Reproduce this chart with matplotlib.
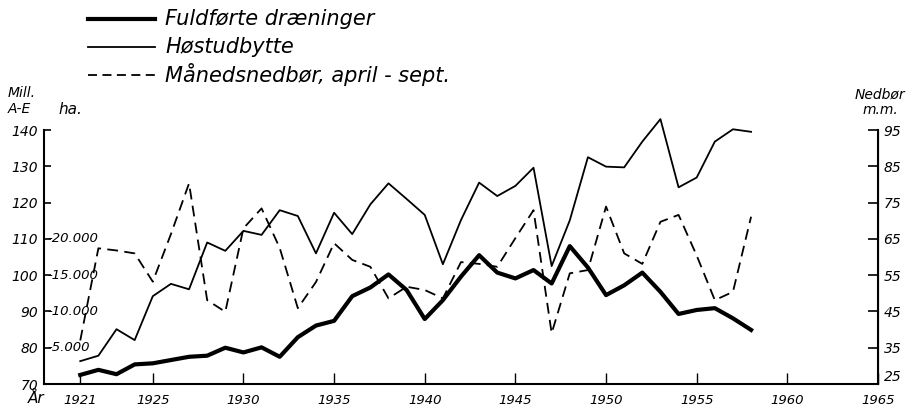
import matplotlib
matplotlib.use("Agg")
import matplotlib.pyplot as plt
from matplotlib.lines import Line2D

# Data (years 1921-1958)
years = list(range(1921, 1959))

# Fuldførte dræninger, on the left scale (70..140 ~ 0..35.000 ha)
draeninger = [72.5, 73.9, 72.7, 75.4, 75.7, 76.6, 77.5, 77.8, 80.0, 78.7,
              80.1, 77.5, 82.9, 86.1, 87.4, 94.2, 96.6, 100.2, 95.9, 87.9,
              93.1, 99.6, 105.5, 100.7, 99.1, 101.4, 97.7, 108.0, 102.1, 94.5,
              97.2, 100.7, 95.4, 89.3, 90.4, 90.9, 88.1, 84.9]

# Høstudbytte, mill. A-E
hostudbytte = [76.3, 77.8, 85.1, 82.1, 94.2, 97.6, 96.1, 109.0, 106.7, 112.2,
               111.1, 117.9, 116.3, 106.0, 117.2, 111.3, 119.5, 125.3, 121.0, 116.6,
               103.0, 115.2, 125.5, 121.8, 124.6, 129.6, 102.5, 115.1, 132.5, 129.9,
               129.7, 136.8, 143.0, 124.2, 126.9, 136.8, 140.2, 139.5]

# Månedsnedbør april-sept, mm (right scale)
nedbor = [37.0, 62.4, 61.8, 61.0, 53.2, 66.3, 80.3, 48.1, 44.9, 67.9,
          73.4, 62.5, 45.9, 53.1, 63.8, 59.2, 57.3, 48.6, 51.8, 50.9,
          48.6, 58.6, 58.1, 57.3, 65.2, 72.9, 39.0, 55.5, 56.4, 73.9,
          61.0, 58.1, 69.7, 71.6, 60.4, 48.1, 50.4, 71.1]

left_ticks = [70, 80, 90, 100, 110, 120, 130, 140]
right_ticks = [25, 35, 45, 55, 65, 75, 85, 95]
ha_labels = ["5.000", "10.000", "15.000", "20.000"]
ha_levels = [80, 90, 100, 110]
x_ticks = [1921, 1925, 1930, 1935, 1940, 1945, 1950, 1955, 1960, 1965]

legend_labels = ["Fuldførte dræninger", "Høstudbytte", "Månedsnedbør, april - sept."]

plt.rcParams['font.family'] = 'DejaVu Sans'
plt.rcParams['font.style'] = 'italic'

fig = plt.figure(figsize=(9.17, 4.08), dpi=100)
ax = fig.add_axes([44 / 917, 1 - 384 / 408, (878 - 44) / 917, (384 - 130) / 408])
ax2 = ax.twinx()

ax.set_xlim(1919, 1965)
ax.set_ylim(70, 140)
ax2.set_ylim(25, 95)

ax.plot(years, draeninger, color='black', lw=3.0, clip_on=False)
ax.plot(years, hostudbytte, color='black', lw=1.3, clip_on=False)
ax2.plot(years, nedbor, color='black', lw=1.3, dashes=(6, 3.5), clip_on=False)

for a in (ax, ax2):
    a.spines['top'].set_visible(False)
ax2.spines['left'].set_visible(False)
ax2.spines['bottom'].set_visible(False)

ax.set_yticks(left_ticks)
ax.set_yticklabels([str(v) for v in left_ticks], fontsize=10, style='italic')
ax.tick_params(axis='y', direction='in', length=5, width=1.2, pad=4)
ax.set_xticks(x_ticks)
ax.set_xticklabels([str(v) for v in x_ticks], fontsize=9.5, style='italic')
ax.tick_params(axis='x', direction='in', length=8, width=1.0, pad=7)
ax2.set_yticks(right_ticks)
ax2.set_yticklabels([str(v) for v in right_ticks], fontsize=10, style='italic')
ax2.tick_params(axis='y', direction='in', length=7, width=1.2, pad=4)
# lift the bottom right label a little, as on the drawing
ax2.get_yticklabels()[0].set_va('bottom')
for s in ('left', 'bottom'):
    ax.spines[s].set_linewidth(1.5)
ax2.spines['right'].set_linewidth(1.5)

# ha scale written next to the left axis
for lab, lev in zip(ha_labels, ha_levels):
    ax.text(1919.2, lev, "-" + lab, fontsize=9.5, style='italic', va='center', ha='left')

# axis captions
fig.text(8 / 917, 1 - 93 / 408, "Mill.", fontsize=10, style='italic', va='center')
fig.text(8 / 917, 1 - 109 / 408, "A-E", fontsize=10, style='italic', va='center')
fig.text(58 / 917, 1 - 109 / 408, "ha.", fontsize=11, style='italic', va='center')
fig.text(855 / 917, 1 - 95 / 408, "Nedbør", fontsize=10, style='italic', va='center')
fig.text(863 / 917, 1 - 110 / 408, "m.m.", fontsize=10, style='italic', va='center')
fig.text(28 / 917, 1 - 398 / 408, "År", fontsize=11, style='italic', va='center')

# hand-drawn legend at the top
styles = [dict(lw=3.0), dict(lw=1.3), dict(lw=1.3, dashes=(5, 3))]
rows = [19, 47, 75]
for lab, st, r in zip(legend_labels, styles, rows):
    yf = 1 - r / 408
    fig.add_artist(Line2D([88 / 917, 155 / 917], [yf, yf], color='black',
                          transform=fig.transFigure, **st))
    fig.text(165 / 917, yf, lab, fontsize=15, style='italic', va='center')

fig.savefig("out.png", dpi=100)
